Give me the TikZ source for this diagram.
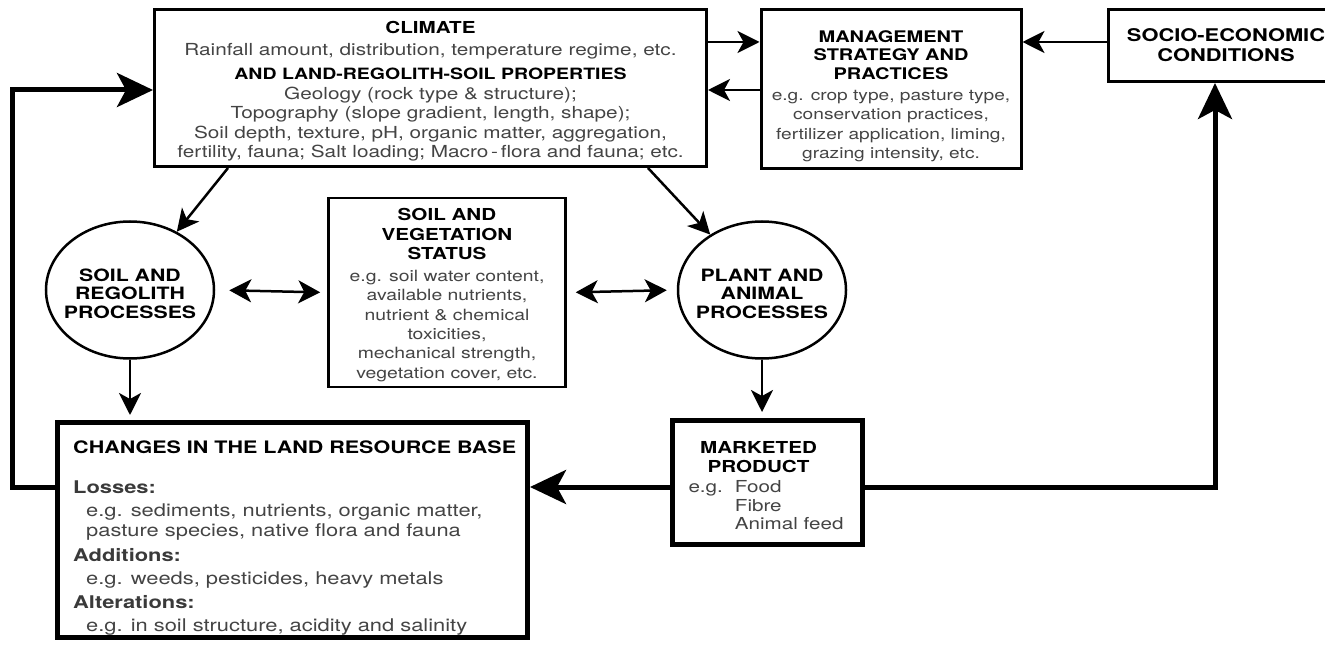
\documentclass[tikz,border=0pt]{standalone}
\usepackage{fontspec}
\setmainfont[FakeStretch=1.25]{TeX Gyre Heros}
\usetikzlibrary{shapes.geometric,arrows.meta}
\definecolor{bodyink}{HTML}{444444}
\newcommand{\hd}[1]{{\bfseries\color{black}#1}}
\newcommand{\hds}[2]{{\fontsize{#1}{#1}\selectfont\bfseries\color{black}#2}}
\newcommand{\sub}[1]{{\bfseries\color{bodyink!85!black}#1}}
\begin{document}
\begin{tikzpicture}[x=1pt,y=-1pt,
  box/.style={draw, line width=3pt, fill=white, inner sep=0pt},
  heavybox/.style={box, line width=5pt},
  boxtext/.style={inner sep=0pt, align=center, text=bodyink},
  proc/.style={ellipse, draw, line width=2.5pt, minimum width=168pt,
    minimum height=137pt, inner sep=0pt},
  proctext/.style={inner sep=0pt, align=center,
    font=\fontsize{17}{18.5}\selectfont\bfseries},
  link/.style={line width=2.5pt, -{Stealth[length=22pt,width=22pt,inset=6pt]}},
  twoway/.style={line width=2.5pt, {Stealth[length=22pt,width=23pt,inset=6pt]}-{Stealth[length=22pt,width=23pt,inset=6pt]}},
  feedback/.style={line width=5pt, -{Stealth[length=36pt,width=34pt,inset=9pt]}},
]
\useasboundingbox (0,0) rectangle (1325,647);
\clip (0,0) rectangle (1325,647);

% guide heights for the horizontal connectors
\coordinate (yA) at (0,42);
\coordinate (yB) at (0,90);
\coordinate (yC) at (0,487);

% top row
\node[box, minimum width=552pt, minimum height=157pt] (clim) at (430.5,88) {};
\node[boxtext, font=\fontsize{16.6}{19.5}\selectfont] (climT) at (430.5,91.5)
  {\hds{16.5}{CLIMATE}\\[2pt]
   Rainfall amount, distribution, temperature regime, etc.\\[5pt]
   \hds{15.6}{AND LAND-REGOLITH-SOIL PROPERTIES}\\
   Geology (rock type \& structure);\\
   Topography (slope gradient, length, shape);\\
   Soil depth, texture, pH, organic matter, aggregation,\\
   fertility, fauna; Salt loading; Macro\,-\,flora and fauna; etc.};

\node[box, minimum width=260pt, minimum height=159pt] (mgmt) at (891,89) {};
\node[boxtext, font=\fontsize{15.3}{19.5}\selectfont] (mgmtT) at (891,96)
  {\hds{16}{MANAGEMENT}\\[-1pt] \hds{16}{STRATEGY AND}\\[-1pt] \hds{16}{PRACTICES}\\[1.5pt]
   e.g. crop type, pasture type,\\ conservation practices,\\
   fertilizer application, liming,\\ grazing intensity, etc.};

\node[box, minimum width=240pt, minimum height=72pt] (socio) at (1228,45.5) {};
\node[boxtext, font=\fontsize{17.5}{20}\selectfont\bfseries] (socioT) at (1226,45)
  {\hd{SOCIO-ECONOMIC}\\ \hd{CONDITIONS}};

% middle row
\node[proc] (soilc) at (130,290) {};
\node[proctext] (soilcT) at (130,293.5) {SOIL AND\\ REGOLITH\\ PROCESSES};
\node[proc] (plant) at (762,290) {};
\node[proctext] (plantT) at (762,293.5) {PLANT AND\\ ANIMAL\\ PROCESSES};

\node[box, line width=2.5pt, minimum width=237pt, minimum height=189pt]
  (status) at (447,292.5) {};
\node[boxtext, font=\fontsize{15.5}{19.3}\selectfont] (statusT) at (447,295)
  {\hds{16.5}{SOIL AND}\\ \hds{16.5}{VEGETATION}\\ \hds{16.5}{STATUS}\\[3pt]
   e.g. soil water content,\\ available nutrients,\\
   nutrient \& chemical\\ toxicities,\\ mechanical strength,\\
   vegetation cover, etc.};

% bottom row
\node[heavybox, minimum width=470pt, minimum height=215pt] (chg) at (292.5,530) {};
\node[boxtext, anchor=north west, align=left,
  font=\fontsize{17.5}{22}\selectfont] (chgT) at (73,440.5)
  {\hds{17.2}{CHANGES IN THE LAND RESOURCE BASE}\\[18pt]
   \sub{Losses:}\\[1pt]
   \hspace*{13pt}e.g. sediments, nutrients, organic matter,\\[-2pt]
   \hspace*{13pt}pasture species, native flora and fauna\\[3pt]
   \sub{Additions:}\\[1pt]
   \hspace*{13pt}e.g. weeds, pesticides, heavy metals\\[2pt]
   \sub{Alterations:}\\[1pt]
   \hspace*{13pt}e.g. in soil structure, acidity and salinity};

\node[heavybox, minimum width=190pt, minimum height=124pt] (mkt) at (767.5,482.5) {};
\node[boxtext, font=\fontsize{16.5}{18.5}\selectfont] (mktT) at (766,488)
  {\begin{tabular}{@{}l@{\hspace{12pt}}l@{}}
   \multicolumn{2}{@{}l@{}}{\makebox[140pt]{\hd{MARKETED}}}\\
   \multicolumn{2}{@{}l@{}}{\makebox[140pt]{\hd{PRODUCT}}}\\[2pt]
   e.g. & Food\\
        & Fibre\\
        & Animal feed
   \end{tabular}};

% connectors between the top boxes
\draw[link] (clim.east |- yA) -- (mgmt.west |- yA);
\draw[link] (mgmt.west |- yB) -- (clim.east |- yB);
\draw[link] (socio.west |- yA) -- (mgmt.east |- yA);

% climate and land properties drive both kinds of processes
\draw[link] ([xshift=75pt]clim.south west) -- (soilc);
\draw[link] ([xshift=-60pt]clim.south east) -- (plant);

% exchanges with the soil and vegetation status
\draw[twoway, shorten <=14pt, shorten >=7pt] (soilc.east) -- (status.west);
\draw[twoway, shorten <=9pt, shorten >=10pt] (status.east) -- (plant.west);

% processes to outcomes
\draw[link, shorten >=5pt] (soilc.south) -- (soilc.south |- chg.north);
\draw[link, shorten >=6pt] (plant.south) -- (plant.south |- mkt.north);
\draw[feedback] (mkt.west |- yC) -- (chg.east |- yC);

% feedback loops
\coordinate (lc) at (12,487);
\coordinate (rc) at (1215,487);
\draw[feedback] (chg.west |- yC) -- (lc) -- (lc |- yB) -- (clim.west |- yB);
\draw[feedback] (mkt.east |- yC) -- (rc) -- (rc |- socio.south);
\end{tikzpicture}
\end{document}
